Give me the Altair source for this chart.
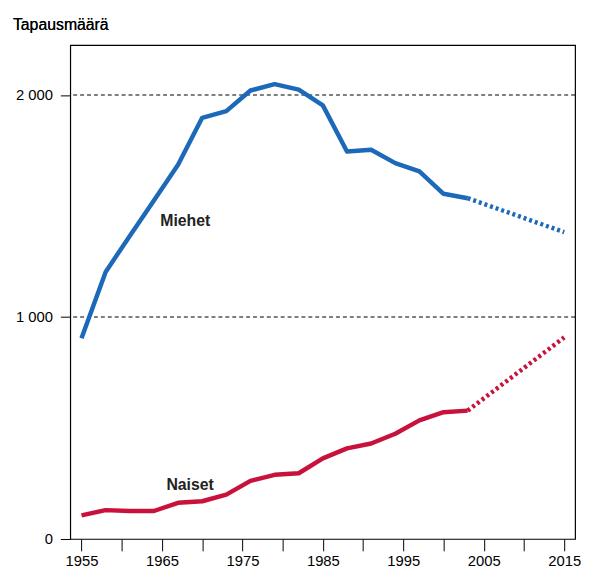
import altair as alt
import pandas as pd

# --- data ---
years = [1955, 1958, 1961, 1964, 1967, 1970, 1973, 1976, 1979, 1982,
         1985, 1988, 1991, 1994, 1997, 2000, 2003]
men = [904, 1203, 1365, 1525, 1686, 1897, 1927, 2020, 2049, 2024,
       1953, 1745, 1753, 1693, 1656, 1555, 1535]
women = [106, 130, 126, 126, 163, 170, 200, 262, 289, 296,
         363, 408, 430, 474, 534, 571, 578]
proj_years = [2003, 2015]
men_proj = [1535, 1382]
women_proj = [578, 908]

series = ["Miehet", "Naiset"]
colors = ["#1b69b8", "#c8123c"]

grid_values = [1000, 2000]
x_ticks = list(range(1955, 2016, 5))
y_ticks = [0, 1000, 2000]

label_text = ["Miehet", "Naiset"]
label_year = [1967.9, 1968.5]
label_value = [1434, 245]

# --- tables ---
obs = pd.DataFrame({
    "year": years * 2,
    "value": men + women,
    "series": ["Miehet"] * len(years) + ["Naiset"] * len(years),
})
proj = pd.DataFrame({
    "year": proj_years * 2,
    "value": men_proj + women_proj,
    "series": ["Miehet"] * len(proj_years) + ["Naiset"] * len(proj_years),
})
grid = pd.DataFrame({"value": grid_values})
labels = pd.DataFrame({"year": label_year, "value": label_value, "text": label_text})

FONT = "Liberation Sans"

x_enc = alt.X(
    "year:Q",
    scale=alt.Scale(domain=[1953.6, 2016.35], nice=False, zero=False),
    axis=alt.Axis(
        values=x_ticks,
        labelExpr="(datum.value - 1955) % 10 == 0 ? '' + datum.value : ''",
        title=None, grid=False, domain=False,
        tickSize=12, tickColor="black", labelPadding=3,
        labelFontSize=15, labelFont=FONT, labelColor="black",
        labelFlush=False, labelOverlap=False,
    ),
)
y_enc = alt.Y(
    "value:Q",
    scale=alt.Scale(domain=[0, 2225], nice=False),
    axis=alt.Axis(
        values=y_ticks,
        labelExpr="datum.value == 0 ? '0' : format(datum.value / 1000, 'd') + ' 000'",
        title=None, grid=False, domain=False,
        tickSize=10, tickColor="black", labelPadding=8,
        labelFontSize=15, labelFont=FONT, labelColor="black",
    ),
)
color_enc = alt.Color("series:N", scale=alt.Scale(domain=series, range=colors), legend=None)

rules = alt.Chart(grid).mark_rule(
    color="black", strokeWidth=1.1, strokeDash=[4, 3]
).encode(y=y_enc)

lines = alt.Chart(obs).mark_line(
    strokeWidth=4.5, strokeJoin="round", strokeCap="butt"
).encode(x=x_enc, y=y_enc, color=color_enc, detail="series:N")

dotted = alt.Chart(proj).mark_line(
    strokeWidth=4.5, strokeDash=[3, 3], strokeCap="butt"
).encode(x=x_enc, y=y_enc, color=color_enc, detail="series:N")

texts = alt.Chart(labels).mark_text(
    font=FONT, fontSize=16, fontWeight="bold", color="#222222",
    align="center", baseline="middle"
).encode(x=x_enc, y=y_enc, text="text:N")

title = alt.Chart(labels).mark_text(
    font=FONT, fontSize=16, color="black", align="left", baseline="alphabetic"
).encode(x=alt.value(-58), y=alt.value(-15), text=alt.value("Tapausmäärä"))

chart = alt.layer(rules, lines, dotted, texts, title).properties(
    width=511, height=500,
    autosize=alt.AutoSizeParams(type="none"),
    padding={"left": 63, "top": 34, "right": 6, "bottom": 33},
    background="white",
).configure_view(
    stroke="black", strokeWidth=1.2
)

chart.save("out.html", embed_options={"renderer": "svg", "actions": False})
